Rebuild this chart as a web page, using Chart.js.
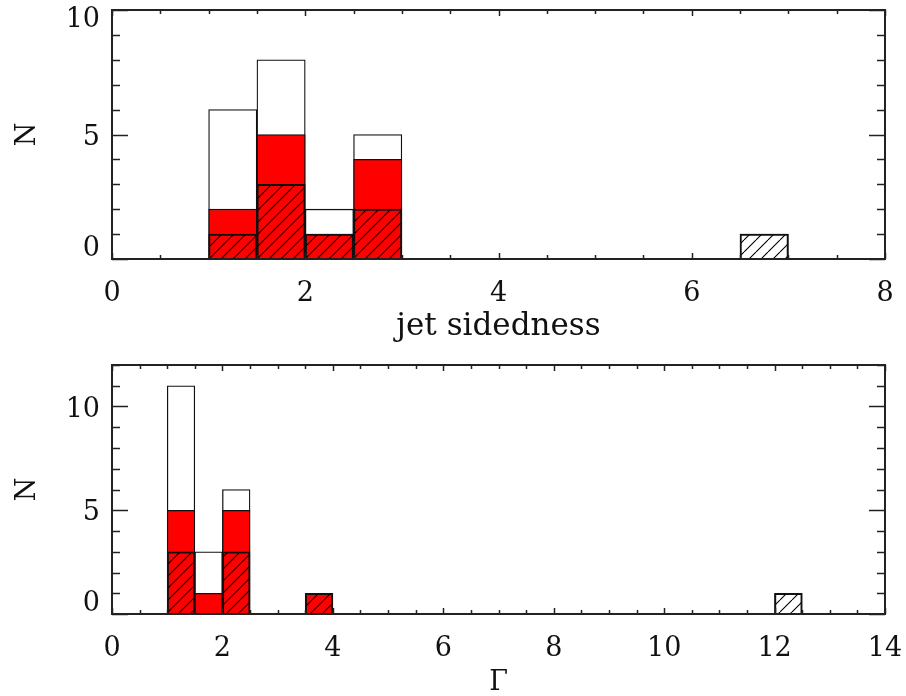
<!DOCTYPE html>
<html>
<head>
<meta charset="utf-8">
<script src="https://cdn.jsdelivr.net/npm/chart.js@4.4.0/dist/chart.umd.min.js"></script>
<style>
  body { margin: 0; background: #fff; }
  #wrap { position: relative; width: 906px; height: 696px; }
  .panel { position: absolute; left: 0; width: 906px; height: 348px; }
</style>
</head>
<body>
<div id="wrap">
  <div class="panel" style="top:0"><canvas id="sided" width="906" height="348"></canvas></div>
  <div class="panel" style="top:348px"><canvas id="gamma" width="906" height="348"></canvas></div>
</div>
<script>
// histogram bin centres (bin width 0.5) and counts
const sideBins  = [1.25, 1.75, 2.25, 2.75, 6.75];
const sideAll   = [6, 8, 2, 5, 1];
const sideRed   = [2, 5, 1, 4, 0];
const sideHatch = [1, 3, 1, 2, 1];

const gammaBins  = [1.25, 1.75, 2.25, 3.75, 12.25];
const gammaAll   = [11, 3, 6, 1, 1];
const gammaRed   = [5, 1, 5, 1, 0];
const gammaHatch = [3, 0, 3, 1, 1];

const FONT = "'DejaVu Serif', 'Liberation Serif', serif";
const INK = '#111';

function makeHatch() {
  const s = 12;
  const c = document.createElement('canvas');
  c.width = s; c.height = s;
  const g = c.getContext('2d');
  g.strokeStyle = '#000';
  g.lineWidth = 1.1;
  g.beginPath();
  [-s, 0, s].forEach(k => { g.moveTo(k, s); g.lineTo(k + s, 0); });
  g.stroke();
  return c;
}

// frame + inward ticks on all four sides, IDL style; y labels kept inside the frame
const frameTicks = {
  id: 'frameTicks',
  afterDatasetsDraw(chart, args, o) {
    const { ctx, chartArea: a, scales: { x, y } } = chart;
    ctx.save();
    ctx.strokeStyle = '#222';
    ctx.lineWidth = 1.5;
    ctx.beginPath();
    for (let v = x.min; v <= x.max + 1e-9; v += o.xMinor) {
      const px = Math.round(x.getPixelForValue(v)) + 0.5;
      const len = Math.abs(v / o.xMajor - Math.round(v / o.xMajor)) < 1e-6 ? 6 : 4;
      ctx.moveTo(px, a.bottom); ctx.lineTo(px, a.bottom - len);
      ctx.moveTo(px, a.top); ctx.lineTo(px, a.top + len);
    }
    for (let v = y.min; v <= y.max + 1e-9; v += o.yMinor) {
      const py = Math.round(y.getPixelForValue(v)) + 0.5;
      const len = Math.abs(v / o.yMajor - Math.round(v / o.yMajor)) < 1e-6 ? 16 : 8;
      ctx.moveTo(a.left, py); ctx.lineTo(a.left + len, py);
      ctx.moveTo(a.right, py); ctx.lineTo(a.right - len, py);
    }
    ctx.stroke();
    ctx.lineWidth = 2;
    ctx.strokeRect(a.left, a.top, a.right - a.left, a.bottom - a.top);

    ctx.fillStyle = INK;
    ctx.font = '27px ' + FONT;
    ctx.textAlign = 'right';
    ctx.textBaseline = 'middle';
    y.ticks.forEach(t => {
      let py = y.getPixelForValue(t.value) + 3;
      py = Math.min(Math.max(py, a.top + 10), a.bottom - 10);
      ctx.fillText(t.label != null ? t.label : String(t.value), a.left - 12, py);
    });
    ctx.restore();
  }
};

function histChart(id, bins, all, red, hatch, xMax, yMax, xTitle, xTitleSize, pad, axisH, titlePad) {
  const pts = arr => bins.map((b, i) => ({ x: b, y: arr[i] }));
  const common = {
    barPercentage: 1, categoryPercentage: 1, grouped: false,
    borderColor: '#111', borderWidth: 1.3, borderSkipped: 'start'
  };
  return new Chart(document.getElementById(id), {
    type: 'bar',
    data: {
      datasets: [
        Object.assign({ data: pts(hatch), backgroundColor: hatchFill, order: 1 }, common),
        Object.assign({ data: pts(red), backgroundColor: '#ff0000', order: 2 }, common),
        Object.assign({ data: pts(all), backgroundColor: '#ffffff', order: 3 }, common)
      ]
    },
    options: {
      responsive: false,
      animation: false,
      layout: { padding: { top: pad, right: 21, left: 0, bottom: 0 } },
      plugins: {
        legend: { display: false },
        tooltip: { enabled: false },
        frameTicks: { xMinor: 0.5, xMajor: 2, yMinor: 1, yMajor: 5 }
      },
      scales: {
        x: {
          type: 'linear', min: 0, max: xMax, offset: false,
          grid: { display: false, drawTicks: false },
          border: { display: false },
          ticks: { stepSize: 2, includeBounds: false, padding: 19, maxRotation: 0,
                   color: INK, font: { family: FONT, size: 27 } },
          title: { display: true, text: xTitle, color: INK,
                   padding: { top: 0, bottom: titlePad },
                   font: { family: FONT, size: xTitleSize, lineHeight: 1 } },
          afterFit(s) { s.height = axisH; s.paddingLeft = 0; s.paddingRight = 0; }
        },
        y: {
          min: 0, max: yMax,
          grid: { display: false, drawTicks: false },
          border: { display: false },
          ticks: { display: false, stepSize: 5, includeBounds: false },
          title: { display: true, text: 'N', color: INK,
                   padding: { top: 14, bottom: 0 },
                   font: { family: FONT, size: 27, lineHeight: 1 } },
          afterFit(s) { s.width = 112; s.paddingTop = 0; s.paddingBottom = 0; }
        }
      }
    },
    plugins: [frameTicks]
  });
}

const hatchFill = document.createElement('canvas').getContext('2d').createPattern(makeHatch(), 'repeat');

histChart('sided', sideBins, sideAll, sideRed, sideHatch, 8, 10, 'jet sidedness', 31, 10, 89, 6);
histChart('gamma', gammaBins, gammaAll, gammaRed, gammaHatch, 14, 12, 'Γ', 27, 17, 82, 0);
</script>
</body>
</html>
